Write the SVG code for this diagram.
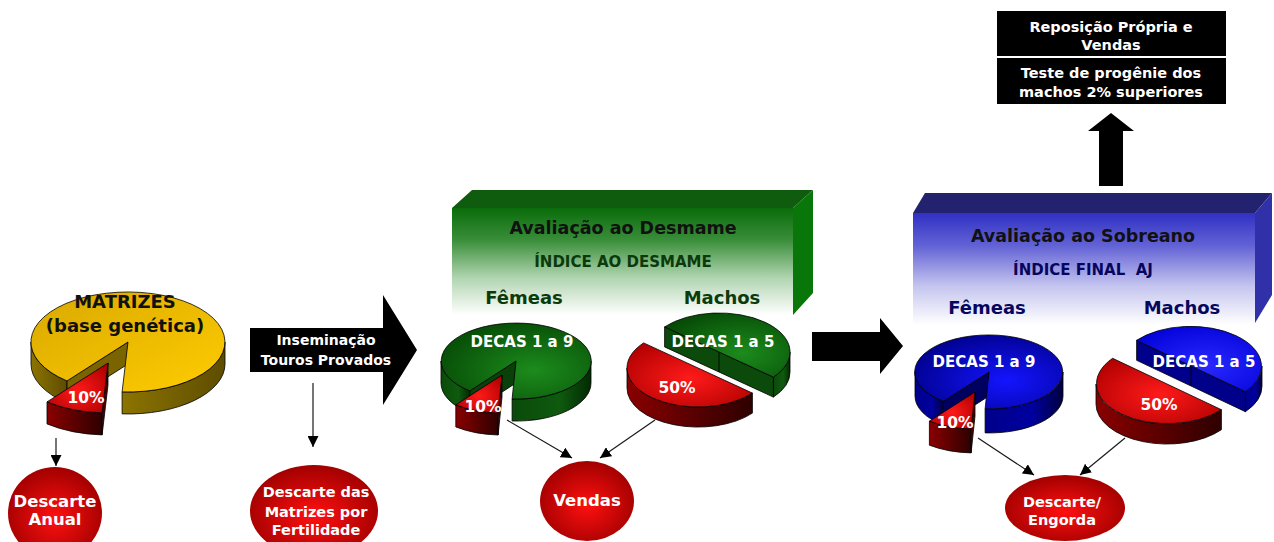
<svg xmlns="http://www.w3.org/2000/svg" width="1274" height="542" viewBox="0 0 1274 542">
  <defs>
    <style>
      text { font-family: "DejaVu Sans", Verdana, sans-serif; font-weight: bold; text-anchor: middle; }
      .w { fill: #ffffff; }
      .dk { fill: #111111; }
      .gtx { fill: #0b3a0b; }
      .btx { fill: #06065e; }
      .edge { stroke: #000; stroke-width: 0.8; stroke-linejoin: round; }
      .con { stroke: #1a1a1a; stroke-width: 1.2; fill: none; marker-end: url(#ah); }
      .blk { fill: #000; }
    </style>
    <marker id="ah" viewBox="0 0 10 10" refX="10" refY="5" markerWidth="11" markerHeight="11" markerUnits="userSpaceOnUse" orient="auto">
      <path d="M0,0 L10,5 L0,10 z" fill="#000"/>
    </marker>
    <!-- pie top faces -->
    <radialGradient id="gTop" cx="0.62" cy="0.62" r="0.7">
      <stop offset="0" stop-color="#1c8c1c"/><stop offset="1" stop-color="#064a06"/>
    </radialGradient>
    <radialGradient id="rTop" cx="0.5" cy="0.55" r="0.65">
      <stop offset="0" stop-color="#ff1a1a"/><stop offset="1" stop-color="#b00000"/>
    </radialGradient>
    <radialGradient id="bTop" cx="0.62" cy="0.62" r="0.7">
      <stop offset="0" stop-color="#1414ff"/><stop offset="1" stop-color="#00008c"/>
    </radialGradient>
    <radialGradient id="bTop2" cx="0.55" cy="0.6" r="0.7">
      <stop offset="0" stop-color="#2a2aff"/><stop offset="1" stop-color="#0000d8"/>
    </radialGradient>
    <linearGradient id="yTop" x1="0" y1="0" x2="1" y2="1">
      <stop offset="0" stop-color="#d9a900"/><stop offset="1" stop-color="#ffcc00"/>
    </linearGradient>
    <!-- pie sides -->
    <linearGradient id="gSide" x1="0" y1="0" x2="1" y2="0">
      <stop offset="0" stop-color="#0a4a0a"/><stop offset="0.6" stop-color="#0f5a0f"/><stop offset="1" stop-color="#022a02"/>
    </linearGradient>
    <linearGradient id="rSide" x1="0" y1="0" x2="1" y2="0">
      <stop offset="0" stop-color="#8a0000"/><stop offset="1" stop-color="#2e0000"/>
    </linearGradient>
    <linearGradient id="bSide" x1="0" y1="0" x2="1" y2="0">
      <stop offset="0" stop-color="#00008a"/><stop offset="0.6" stop-color="#0000a0"/><stop offset="1" stop-color="#000040"/>
    </linearGradient>
    <linearGradient id="ySide" x1="0" y1="0" x2="1" y2="0">
      <stop offset="0" stop-color="#8c7400"/><stop offset="1" stop-color="#5e4c00"/>
    </linearGradient>
    <!-- round red tags -->
    <radialGradient id="tag" cx="0.5" cy="0.55" r="0.55">
      <stop offset="0" stop-color="#ff1010"/><stop offset="1" stop-color="#a20000"/>
    </radialGradient>
    <!-- panel fronts fading to white -->
    <linearGradient id="gFront" x1="0" y1="0" x2="0" y2="1">
      <stop offset="0" stop-color="#0a6c0a"/><stop offset="0.3" stop-color="#3a8e3a"/><stop offset="0.65" stop-color="#b0d4b0"/><stop offset="1" stop-color="#ffffff"/>
    </linearGradient>
    <linearGradient id="bFront" x1="0" y1="0" x2="0" y2="1">
      <stop offset="0" stop-color="#3030c4"/><stop offset="0.3" stop-color="#6464d6"/><stop offset="0.65" stop-color="#c4c4ef"/><stop offset="1" stop-color="#ffffff"/>
    </linearGradient>
  </defs>

  <rect width="1274" height="542" fill="#ffffff"/>

  <!-- base herd pie -->
  <g id="matrizes">
    <path class="edge" fill="url(#ySide)" d="M225,342 A97,50 0 0 1 122.1,391.9 L122.1,413.9 A97,50 0 0 0 225,364 Z"/>
    <path class="edge" fill="url(#ySide)" d="M67,380.9 A97,50 0 0 1 31,342 L31,364 A97,50 0 0 0 67,402.9 Z"/>
    <path class="edge" fill="#7a6400" d="M128,342 L67,380.9 L67,402.9 L128,364 Z"/>
    <path class="edge" fill="url(#yTop)" d="M128,342 L67,380.9 A97,50 0 1 1 122.1,391.9 Z"/>
    <path class="edge" fill="url(#rSide)" d="M102.1,412.9 A97,50 0 0 1 47,401.9 L47,423.9 A97,50 0 0 0 102.1,434.9 Z"/>
    <path class="edge" fill="#4a0000" d="M108,363 L102.1,412.9 L102.1,434.9 L108,385 Z"/>
    <path class="edge" fill="url(#rTop)" d="M108,363 L47,401.9 A97,50 0 0 0 102.1,412.9 Z"/>
    <text x="125" y="308" font-size="18" class="dk">MATRIZES</text>
    <text x="125" y="332" font-size="18" class="dk">(base genética)</text>
    <text x="86" y="403" font-size="15.5" class="w">10%</text>
  </g>

  <g id="descarte-anual">
    <ellipse cx="55" cy="513" rx="47" ry="46" fill="url(#tag)"/>
    <text x="55" y="507" font-size="16.5" class="w">Descarte</text>
    <text x="55" y="525" font-size="16.5" class="w">Anual</text>
  </g>

  <g id="inseminacao">
    <path class="blk" d="M250,328 L383,328 L383,295 L417,350 L383,405 L383,372 L250,372 Z"/>
    <text x="326" y="345" font-size="14" class="w">Inseminação</text>
    <text x="326" y="365" font-size="14" class="w">Touros Provados</text>
  </g>

  <g id="descarte-fertilidade">
    <ellipse cx="314" cy="511" rx="64" ry="46" fill="url(#tag)"/>
    <text x="316" y="497" font-size="14.5" class="w">Descarte das</text>
    <text x="316" y="517" font-size="14.5" class="w">Matrizes por</text>
    <text x="316" y="535" font-size="14.5" class="w">Fertilidade</text>
  </g>

  <!-- weaning evaluation panel -->
  <g id="desmame">
    <path fill="#0f5c0f" d="M452,208 L472,190 L813,190 L793,208 Z"/>
    <path fill="#087608" d="M793,208 L813,190 L813,293 L793,315 Z"/>
    <rect x="452" y="208" width="341" height="107" fill="url(#gFront)"/>
    <text x="623" y="234" font-size="17.5" class="dk">Avaliação ao Desmame</text>
    <text x="623" y="267" font-size="15" class="gtx">ÍNDICE AO DESMAME</text>
    <text x="524" y="304" font-size="18" class="gtx">Fêmeas</text>
    <text x="722" y="304" font-size="18" class="gtx">Machos</text>
  </g>

  <g id="desmame-femeas">
    <path class="edge" fill="url(#gSide)" d="M591,361 A75,38 0 0 1 512.1,399 L512.1,421 A75,38 0 0 0 591,383 Z"/>
    <path class="edge" fill="url(#gSide)" d="M469.8,390.9 A75,38 0 0 1 441,361 L441,383 A75,38 0 0 0 469.8,412.9 Z"/>
    <path class="edge" fill="#0a400a" d="M516,361 L469.8,390.9 L469.8,412.9 L516,383 Z"/>
    <path class="edge" fill="url(#gTop)" d="M516,361 L469.8,390.9 A75,38 0 1 1 512.1,399 Z"/>
    <path class="edge" fill="url(#rSide)" d="M498.1,413 A75,38 0 0 1 455.8,404.9 L455.8,426.9 A75,38 0 0 0 498.1,435 Z"/>
    <path class="edge" fill="#4a0000" d="M502,375 L498.1,413 L498.1,435 L502,397 Z"/>
    <path class="edge" fill="url(#rTop)" d="M502,375 L455.8,404.9 A75,38 0 0 0 498.1,413 Z"/>
    <text x="522" y="347" font-size="15" class="w">DECAS 1 a 9</text>
    <text x="483" y="412" font-size="15.5" class="w">10%</text>
  </g>

  <g id="desmame-machos">
    <path class="edge" fill="url(#gSide)" d="M790,352 A71,39 0 0 1 773.4,377.1 L773.4,397.1 A71,39 0 0 0 790,372 Z"/>
    <path class="edge" fill="#0b4a0b" d="M664.6,326.9 L773.4,377.1 L773.4,397.1 L664.6,346.9 Z"/>
    <path class="edge" fill="none" d="M719,352 L719,372"/>
    <path class="edge" fill="url(#gTop)" d="M664.6,326.9 A71,39 0 0 1 773.4,377.1 Z"/>
    <path class="edge" fill="url(#rSide)" d="M752.4,393.1 A71,39 0 0 1 627,368 L627,388 A71,39 0 0 0 752.4,413.1 Z"/>
    <path class="edge" fill="url(#rTop)" d="M752.4,393.1 A71,39 0 0 1 643.6,342.9 Z"/>
    <text x="723" y="347" font-size="15" class="w">DECAS 1 a 5</text>
    <text x="677" y="393" font-size="15.5" class="w">50%</text>
  </g>

  <g id="vendas">
    <ellipse cx="587" cy="501" rx="47" ry="40" fill="url(#tag)"/>
    <text x="587" y="506" font-size="16.5" class="w">Vendas</text>
  </g>

  <!-- yearling evaluation panel -->
  <g id="sobreano">
    <path fill="#22226e" d="M913,213 L925,193 L1272,193 L1255,213 Z"/>
    <path fill="#3030a8" d="M1255,213 L1272,193 L1272,295 L1255,323 Z"/>
    <rect x="913" y="213" width="342" height="112" fill="url(#bFront)"/>
    <text x="1083" y="242" font-size="17.5" class="dk">Avaliação ao Sobreano</text>
    <text x="1083" y="275" font-size="15" class="btx" xml:space="preserve">ÍNDICE FINAL  AJ</text>
    <text x="987" y="314" font-size="18" class="btx">Fêmeas</text>
    <text x="1182" y="314" font-size="18" class="btx">Machos</text>
  </g>

  <g id="sobreano-femeas">
    <path class="edge" fill="url(#bSide)" d="M1063,372 A74,37 0 0 1 985.1,408.9 L985.1,432.9 A74,37 0 0 0 1063,396 Z"/>
    <path class="edge" fill="url(#bSide)" d="M943.4,401.2 A74,37 0 0 1 915,372 L915,396 A74,37 0 0 0 943.4,425.2 Z"/>
    <path class="edge" fill="#000060" d="M989,372 L943.4,401.2 L943.4,425.2 L989,396 Z"/>
    <path class="edge" fill="url(#bTop)" d="M989,372 L943.4,401.2 A74,37 0 1 1 985.1,408.9 Z"/>
    <path class="edge" fill="url(#rSide)" d="M971.1,428.9 A74,37 0 0 1 929.4,421.2 L929.4,445.2 A74,37 0 0 0 971.1,452.9 Z"/>
    <path class="edge" fill="#4a0000" d="M975,392 L971.1,428.9 L971.1,452.9 L975,416 Z"/>
    <path class="edge" fill="url(#rTop)" d="M975,392 L929.4,421.2 A74,37 0 0 0 971.1,428.9 Z"/>
    <text x="984" y="367" font-size="15" class="w">DECAS 1 a 9</text>
    <text x="955" y="428" font-size="15.5" class="w">10%</text>
  </g>

  <g id="sobreano-machos">
    <path class="edge" fill="url(#bSide)" d="M1262,366 A71,40 0 0 1 1245.4,391.7 L1245.4,411.7 A71,40 0 0 0 1262,386 Z"/>
    <path class="edge" fill="#00008a" d="M1136.6,340.3 L1245.4,391.7 L1245.4,411.7 L1136.6,360.3 Z"/>
    <path class="edge" fill="none" d="M1191,366 L1191,386"/>
    <path class="edge" fill="url(#bTop2)" d="M1136.6,340.3 A71,40 0 0 1 1245.4,391.7 Z"/>
    <path class="edge" fill="url(#rSide)" d="M1221.4,409.7 A71,40 0 0 1 1096,384 L1096,404 A71,40 0 0 0 1221.4,429.7 Z"/>
    <path class="edge" fill="url(#rTop)" d="M1221.4,409.7 A71,40 0 0 1 1112.6,358.3 Z"/>
    <text x="1204" y="367" font-size="15" class="w">DECAS 1 a 5</text>
    <text x="1159" y="410" font-size="15.5" class="w">50%</text>
  </g>

  <g id="descarte-engorda">
    <ellipse cx="1065" cy="508" rx="60" ry="33" fill="url(#tag)"/>
    <text x="1062" y="507" font-size="14.5" class="w">Descarte/</text>
    <text x="1062" y="525" font-size="14.5" class="w">Engorda</text>
  </g>

  <g id="reposicao">
    <rect x="997" y="11" width="229" height="45" fill="#000"/>
    <rect x="997" y="58" width="229" height="46" fill="#000"/>
    <text x="1111" y="32" font-size="14.5" class="w">Reposição Própria e</text>
    <text x="1111" y="50" font-size="14.5" class="w">Vendas</text>
    <text x="1111" y="78" font-size="14.5" class="w">Teste de progênie dos</text>
    <text x="1111" y="97" font-size="14.5" class="w">machos 2% superiores</text>
  </g>

  <g id="connectors">
    <line class="con" x1="56" y1="438" x2="56" y2="466"/>
    <line class="con" x1="313" y1="383" x2="313" y2="447"/>
    <line class="con" x1="507" y1="420" x2="572" y2="458"/>
    <line class="con" x1="655" y1="420" x2="600" y2="458"/>
    <line class="con" x1="978" y1="438" x2="1034" y2="475"/>
    <line class="con" x1="1125" y1="438" x2="1080" y2="475"/>
    <path class="blk" d="M812,332 L880,332 L880,318 L903,346 L880,374 L880,361 L812,361 Z"/>
    <path class="blk" d="M1099,186 L1099,131 L1088,131 L1111,113 L1134,131 L1123,131 L1123,186 Z"/>
  </g>
</svg>
